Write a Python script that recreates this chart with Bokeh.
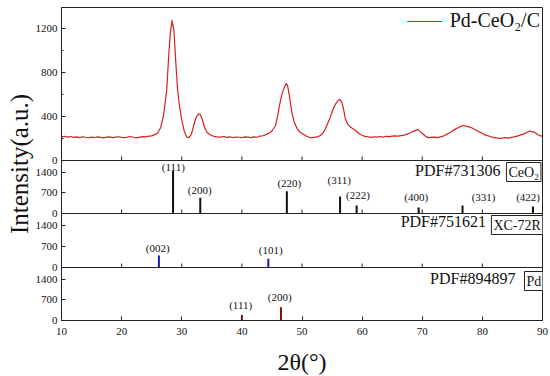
from bokeh.plotting import figure
from bokeh.models import Range1d, FixedTicker, Span, Label, LinearAxis
from bokeh.embed import file_html
from bokeh.resources import INLINE
from bokeh.core.properties import value

# ---------------- data ----------------
two_theta = [10.0, 10.5, 11.0, 11.5, 12.0, 12.5, 13.0, 13.5, 14.0, 14.5, 15.0, 15.5, 16.0, 16.5,
             17.0, 17.5, 18.0, 18.5, 19.0, 19.5, 20.0, 20.5, 21.0, 21.5, 22.0, 22.5, 23.0, 23.5,
             24.0, 24.5, 25.0, 25.5, 26.0, 26.5, 27.0, 27.5, 27.85, 28.1, 28.4, 28.7, 29.0, 29.3,
             29.6, 30.0, 30.4, 30.8, 31.2, 31.6, 32.0, 32.4, 32.8, 33.1, 33.4, 33.8, 34.2, 34.8,
             35.3, 35.9, 36.5, 37.0, 37.5, 38.0, 38.5, 39.0, 39.5, 40.0, 40.5, 41.0, 41.5, 42.0,
             42.5, 43.0, 43.5, 44.0, 44.5, 45.0, 45.6, 46.0, 46.3, 46.7, 47.0, 47.35, 47.6, 47.9,
             48.3, 48.7, 49.2, 49.7, 50.3, 50.8, 51.4, 52.0, 52.5, 53.0, 53.5, 53.9, 54.3, 54.7,
             55.2, 55.6, 56.0, 56.3, 56.6, 56.9, 57.2, 57.6, 58.1, 58.6, 58.9, 59.3, 59.7, 60.3,
             61.0, 61.5, 62.0, 62.5, 63.0, 63.5, 64.0, 64.5, 65.0, 65.5, 66.0, 66.5, 67.0, 67.5,
             68.0, 68.5, 69.0, 69.3, 69.7, 70.0, 70.5, 71.0, 71.5, 72.0, 72.5, 73.0, 73.5, 74.0,
             74.5, 75.0, 75.5, 76.0, 76.5, 76.9, 77.3, 77.8, 78.3, 78.8, 79.3, 79.7, 80.2, 80.7,
             81.3, 81.8, 82.3, 82.8, 83.3, 83.8, 84.3, 84.8, 85.3, 85.8, 86.3, 86.9, 87.4, 87.8,
             88.2, 88.6, 88.9, 89.3, 89.7, 90.0]
intensity = [215, 220, 212, 218, 210, 214, 208, 216, 211, 207, 213, 209, 215, 210,
             206, 212, 214, 208, 212, 216, 210, 207, 213, 218, 211, 206, 212, 217,
             215, 221, 224, 235, 250, 300, 420, 640, 970, 1160, 1273, 1180, 900, 650,
             500, 370, 270, 215, 208, 240, 320, 395, 424, 415, 375, 300, 255, 232,
             220, 215, 212, 218, 210, 214, 209, 213, 211, 207, 215, 212, 208, 214,
             211, 222, 225, 235, 248, 268, 318, 420, 515, 610, 655, 700, 680, 590,
             440, 350, 288, 255, 236, 220, 207, 210, 215, 225, 250, 288, 340, 394,
             470, 515, 545, 555, 530, 470, 380, 330, 303, 285, 273, 255, 236, 222,
             214, 210, 216, 212, 218, 213, 220, 217, 222, 224, 222, 226, 230, 240,
             252, 265, 276, 280, 262, 245, 222, 208, 210, 212, 208, 214, 222, 235,
             250, 268, 285, 300, 312, 318, 312, 305, 295, 280, 265, 255, 240, 228,
             218, 210, 205, 200, 204, 208, 203, 210, 214, 222, 230, 242, 255, 268,
             262, 258, 248, 232, 222, 225]

ceo2_pos = [28.55, 33.08, 47.48, 56.33, 59.09, 69.40, 76.70, 88.41]
ceo2_int = [1440, 533, 757, 577, 272, 200, 272, 238]
ceo2_hkl = ["(111)", "(200)", "(220)", "(311)", "(222)", "(400)", "(331)", "(422)"]
ceo2_lbl_x = [28.6, 33.0, 47.9, 56.2, 59.3, 69.0, 80.2, 87.6]
ceo2_lbl_y = [1596, 815, 1043, 1121, 645, 554, 554, 554]

xc_pos = [26.2, 44.4]
xc_int = [400, 290]
xc_hkl = ["(002)", "(101)"]
xc_lbl_x = [26.0, 44.8]
xc_lbl_y = [657, 590]

pd_pos = [40.0, 46.5]
pd_int = [187, 452]
pd_hkl = ["(111)", "(200)"]
pd_lbl_x = [39.8, 46.3]
pd_lbl_y = [510, 791]

x_ticks = [10, 20, 30, 40, 50, 60, 70, 80, 90]
curve_ticks = [0, 400, 800, 1200]
curve_minor = [200, 600, 1000]
stick_ticks = [0, 700, 1400]

# ---------------- layout of the stacked panels (pixels from frame bottom) ----------------
FRAME_W, FRAME_H = 481, 313
panels = {
    "xrd":  (160, 313, 1390),
    "ceo2": (107, 160, 1800),
    "xc":   (53, 107, 1800),
    "pd":   (0, 53, 1800),
}
SERIF = "Liberation Serif"

p = figure(x_range=Range1d(10, 90), y_range=Range1d(0, FRAME_H),
           frame_width=FRAME_W, frame_height=FRAME_H,
           min_border_left=61, min_border_right=8, min_border_top=7, min_border_bottom=56,
           output_backend="svg", toolbar_location=None)
p.background_fill_color = "white"
p.border_fill_color = "white"
p.outline_line_color = "#222222"
p.outline_line_width = 1
p.xgrid.visible = False
p.ygrid.visible = False

tick_pos, minor_pos, overrides = [], [], {}
for name, (b, t, vmax) in panels.items():
    k = (t - b) / vmax
    p.extra_y_ranges[name] = Range1d(-b / k, (FRAME_H - b) / k)
    ticks = curve_ticks if name == "xrd" else stick_ticks
    for v in ticks:
        pos = round(b + v * k, 3)
        tick_pos.append(pos)
        overrides[pos] = str(v)
    if name == "xrd":
        for v in curve_minor:
            minor_pos.append(round(b + v * k, 3))

# axes
p.xaxis.ticker = FixedTicker(ticks=x_ticks, minor_ticks=[])
p.yaxis.ticker = FixedTicker(ticks=tick_pos, minor_ticks=minor_pos)
p.yaxis.major_label_overrides = overrides
for ax in (p.xaxis[0], p.yaxis[0]):
    ax.major_tick_in = 4
    ax.major_tick_out = 0
    ax.minor_tick_in = 2
    ax.minor_tick_out = 0
    ax.axis_line_color = "#222222"
    ax.major_tick_line_color = "#222222"
    ax.minor_tick_line_color = "#222222"
    ax.major_label_text_font = SERIF
    ax.major_label_text_font_size = "11px"
    ax.major_label_text_color = "#111111"
p.yaxis.major_label_standoff = 4
p.xaxis.major_label_standoff = 7

# axis titles, each on a label-only axis so that it can be centred where the reference has it
def title_axis(bounds, text, size, standoff):
    return LinearAxis(bounds=bounds, ticker=FixedTicker(ticks=[], minor_ticks=[]),
                      axis_label=text, axis_line_color=None,
                      major_tick_line_color=None, minor_tick_line_color=None,
                      major_label_text_font_size="0px",
                      axis_label_text_font=SERIF, axis_label_text_font_size=size,
                      axis_label_text_font_style="normal", axis_label_text_color="#111111",
                      axis_label_standoff=standoff)

p.add_layout(title_axis((0, 270), "Intensity(a.u.)", "25px", 0), "left")
p.add_layout(title_axis((10, 82.8), "2\u03b8(\u00b0)", "24px", 11), "below")

# separators between panels with inward ticks
for name, (b, t, vmax) in panels.items():
    if b == 0:
        continue
    p.add_layout(Span(location=b, dimension="width", line_color="#222222", line_width=1))
    inner = x_ticks[1:-1]
    p.segment(x0=inner, y0=[b] * len(inner), x1=inner, y1=[b + 4] * len(inner),
              line_color="#222222", line_width=1)

# XRD curve
p.line(two_theta, intensity, y_range_name="xrd", line_color="#d81e1e", line_width=1.2,
       legend_label="Pd-CeO\u2082/C")

# standard patterns
def sticks(pos, inten, name, color):
    p.segment(x0=pos, y0=[0] * len(pos), x1=pos, y1=inten, y_range_name=name,
              line_color=color, line_width=2)

sticks(ceo2_pos, ceo2_int, "ceo2", "#111111")
sticks(xc_pos, xc_int, "xc", "#1a1ab4")
sticks(pd_pos, pd_int, "pd", "#7a1010")

def hkl_labels(xs, ys, txt, name):
    p.text(x=xs, y=ys, text=txt, y_range_name=name, text_font=value(SERIF),
           text_font_size="11px", text_align="center", text_baseline="middle",
           text_color="#111111")

hkl_labels(ceo2_lbl_x, ceo2_lbl_y, ceo2_hkl, "ceo2")
hkl_labels(xc_lbl_x, xc_lbl_y, xc_hkl, "xc")
hkl_labels(pd_lbl_x, pd_lbl_y, pd_hkl, "pd")

# card labels and boxed phase names
def card(x, y, text):
    p.add_layout(Label(x=x, y=y, text=text, text_font=SERIF, text_font_size="16px",
                       text_align="right", text_baseline="middle", text_color="#111111"))

def phase_box(x, y, text):
    p.add_layout(Label(x=x, y=y, text=text, text_font=SERIF, text_font_size="14px",
                       text_align="left", text_baseline="top", text_color="#111111",
                       border_line_color="#222222", border_line_width=1,
                       background_fill_color="white", padding=2))

card(83.0, 150, "PDF#731306")
phase_box(84.0, 158, "CeO\u2082")
card(80.6, 99, "PDF#751621")
phase_box(81.5, 105, "XC-72R")
card(85.5, 42, "PDF#894897")
phase_box(87.0, 49, "Pd")

# legend
lg = p.legend[0]
lg.location = "top_right"
lg.border_line_color = None
lg.background_fill_alpha = 0
lg.label_text_font = SERIF
lg.label_text_font_size = "20px"
lg.label_text_color = "#111111"
lg.glyph_width = 35
lg.label_standoff = 8
lg.margin = 2
lg.padding = 3

open("out.html", "w").write(file_html(p, INLINE))
